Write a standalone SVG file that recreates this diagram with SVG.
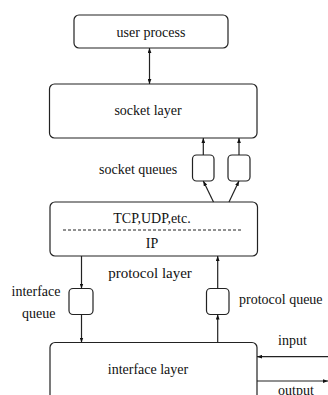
<svg xmlns="http://www.w3.org/2000/svg" width="328" height="395" viewBox="0 0 328 395">
  <style>
    .box { fill: #fff; stroke: #222; stroke-width: 1.2; }
    .q { fill: #fff; stroke: #222; stroke-width: 1.2; }
    .lbl { font-family: "Liberation Serif", "Times New Roman", serif; font-size: 14px; fill: #111; }
    .c { text-anchor: middle; }
    .edge { stroke: #222; stroke-width: 1.2; fill: none; }
  </style>
  <defs>
    <marker id="ah" viewBox="0 0 8 6" refX="8" refY="3" markerWidth="5" markerHeight="4" orient="auto-start-reverse" markerUnits="userSpaceOnUse">
      <path d="M0,0 L8,3 L0,6 Z" fill="#111"/>
    </marker>
  </defs>
  <rect width="328" height="395" fill="#fff"/>

  <g id="user-process">
    <rect class="box" x="74" y="15" width="154" height="33" rx="5"/>
    <text class="lbl c" x="151" y="37">user process</text>
  </g>

  <g id="socket-layer">
    <rect class="box" x="49.5" y="84" width="207.5" height="54" rx="5"/>
    <text class="lbl c" x="148" y="115">socket layer</text>
  </g>

  <g id="socket-queues">
    <rect class="q" x="192.5" y="155" width="21.5" height="26" rx="4"/>
    <rect class="q" x="228" y="155" width="22" height="26" rx="4"/>
    <text class="lbl" x="99" y="174">socket queues</text>
  </g>

  <g id="protocol-layer">
    <rect class="box" x="50" y="202" width="207.5" height="54" rx="5"/>
    <text class="lbl c" x="152" y="223">TCP,UDP,etc.</text>
    <line x1="63" y1="230" x2="243" y2="230" stroke="#222" stroke-width="1" stroke-dasharray="3,2"/>
    <text class="lbl c" x="152" y="248">IP</text>
    <text class="lbl c" x="150" y="278" style="font-size:15px">protocol layer</text>
  </g>

  <g id="interface-queue">
    <rect class="q" x="69" y="288.5" width="24" height="26" rx="4"/>
    <text class="lbl" x="11.5" y="296">interface</text>
    <text class="lbl" x="22" y="318">queue</text>
  </g>

  <g id="protocol-queue">
    <rect class="q" x="206.5" y="288.5" width="22.5" height="26" rx="4"/>
    <text class="lbl" x="239" y="304">protocol queue</text>
  </g>

  <g id="interface-layer">
    <rect class="box" x="50" y="342.5" width="207" height="70" rx="5"/>
    <text class="lbl c" x="148" y="374">interface layer</text>
    <text class="lbl" x="278" y="345">input</text>
    <text class="lbl" x="278" y="395">output</text>
  </g>

  <g id="connectors">
    <line class="edge" x1="149.5" y1="48" x2="149.5" y2="84" marker-start="url(#ah)" marker-end="url(#ah)"/>
    <line class="edge" x1="203.3" y1="155" x2="203.3" y2="138" marker-end="url(#ah)"/>
    <line class="edge" x1="239" y1="155" x2="239" y2="138" marker-end="url(#ah)"/>
    <line class="edge" x1="213.5" y1="202" x2="203.3" y2="181" marker-end="url(#ah)"/>
    <line class="edge" x1="229" y1="202" x2="239" y2="181" marker-end="url(#ah)"/>
    <line class="edge" x1="81.5" y1="256" x2="81.5" y2="288.5" marker-end="url(#ah)"/>
    <line class="edge" x1="217.7" y1="288.5" x2="217.7" y2="256" marker-end="url(#ah)"/>
    <line class="edge" x1="81.5" y1="314.5" x2="81.5" y2="342.5" marker-end="url(#ah)"/>
    <line class="edge" x1="217.7" y1="342.5" x2="217.7" y2="314.5" marker-end="url(#ah)"/>
    <line class="edge" x1="328" y1="356.7" x2="257" y2="356.7" marker-end="url(#ah)"/>
    <line class="edge" x1="257" y1="381" x2="328" y2="381" marker-end="url(#ah)"/>
  </g>
</svg>
